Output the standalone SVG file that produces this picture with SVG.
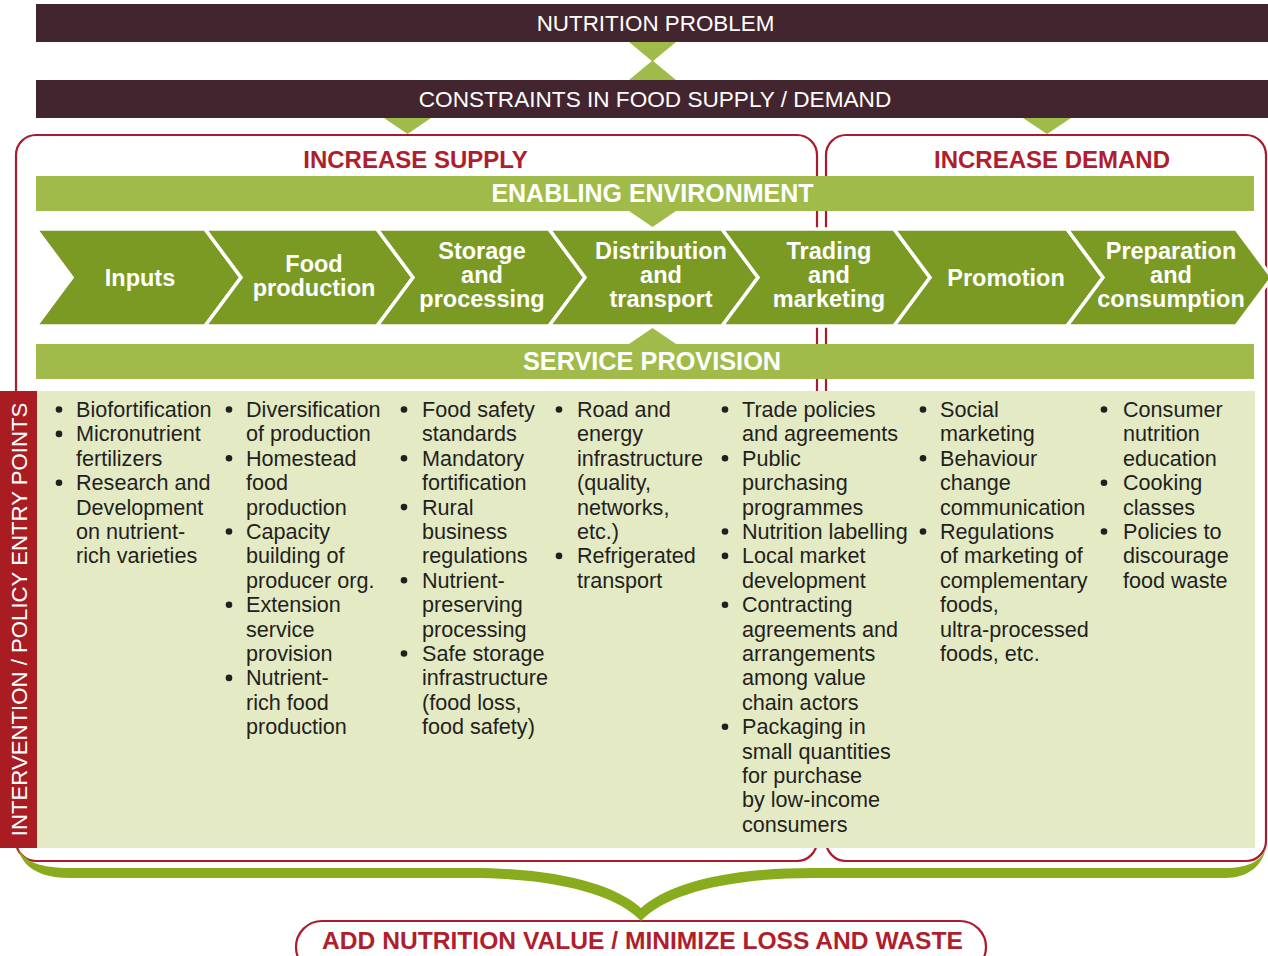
<svg xmlns="http://www.w3.org/2000/svg" width="1268" height="956" viewBox="0 0 1268 956">
<style>
.dark{fill:#43252f}
.lg{fill:#a1bb4a}
.chev{fill:#7b9a24;stroke:#fff;stroke-width:3.5;stroke-linejoin:miter}
.box{fill:none;stroke:#ab1a2d;stroke-width:2.2}
.wt{font-family:"Liberation Sans",Arial,sans-serif;fill:#fff;text-anchor:middle}
.b{font-weight:bold}
.red{font-family:"Liberation Sans",Arial,sans-serif;font-weight:bold;fill:#b01e2d;text-anchor:middle;font-size:24px}
.ct{font-family:"Liberation Sans",Arial,sans-serif;font-weight:bold;fill:#fff;text-anchor:middle;font-size:23.5px}
.lt{font-family:"Liberation Sans",Arial,sans-serif;fill:#231f20;font-size:21.6px}
.bul{fill:#231f20}
</style>

<g id="frames">
  <rect class="box" x="16" y="135" width="801" height="726" rx="20"/>
  <rect class="box" x="826" y="135" width="440" height="726" rx="20"/>
</g>

<g id="nutrition-problem">
  <rect class="dark" x="36" y="4" width="1232" height="38"/>
  <text class="wt" x="655.5" y="31" font-size="22.4">NUTRITION PROBLEM</text>
</g>
<g id="constraints">
  <rect class="dark" x="36" y="80" width="1232" height="38"/>
  <text class="wt" x="655" y="107" font-size="22.6">CONSTRAINTS IN FOOD SUPPLY / DEMAND</text>
</g>

<g id="increase-supply">
  <text class="red" x="415.5" y="168">INCREASE SUPPLY</text>
</g>
<g id="increase-demand">
  <text class="red" x="1052" y="168">INCREASE DEMAND</text>
</g>

<g id="enabling-environment">
  <rect class="lg" x="36" y="176" width="1218" height="35"/>
  <text class="wt b" x="652.5" y="202" font-size="25">ENABLING ENVIRONMENT</text>
</g>

<g id="service-provision">
  <rect class="lg" x="36" y="344" width="1218" height="35"/>
  <text class="wt b" x="652" y="370" font-size="25.3">SERVICE PROVISION</text>
</g>

<g id="chain">
  <g id="inputs">
    <polygon class="chev" points="36,229 205,229 241,277.5 205,326 36,326 72,277.5"/>
    <text class="ct" x="140" y="286">Inputs</text>
  </g>
  <g id="food-production">
    <polygon class="chev" points="205,229 377,229 413,277.5 377,326 205,326 241,277.5"/>
    <text class="ct" x="314" y="272">Food</text>
    <text class="ct" x="314" y="296">production</text>
  </g>
  <g id="storage">
    <polygon class="chev" points="377,229 549,229 585,277.5 549,326 377,326 413,277.5"/>
    <text class="ct" x="482" y="259">Storage</text>
    <text class="ct" x="482" y="283">and</text>
    <text class="ct" x="482" y="307">processing</text>
  </g>
  <g id="distribution">
    <polygon class="chev" points="549,229 722,229 758,277.5 722,326 549,326 585,277.5"/>
    <text class="ct" x="661" y="259">Distribution</text>
    <text class="ct" x="661" y="283">and</text>
    <text class="ct" x="661" y="307">transport</text>
  </g>
  <g id="trading">
    <polygon class="chev" points="722,229 894,229 930,277.5 894,326 722,326 758,277.5"/>
    <text class="ct" x="829" y="259">Trading</text>
    <text class="ct" x="829" y="283">and</text>
    <text class="ct" x="829" y="307">marketing</text>
  </g>
  <g id="promotion">
    <polygon class="chev" points="894,229 1067,229 1103,277.5 1067,326 894,326 930,277.5"/>
    <text class="ct" x="1006" y="286">Promotion</text>
  </g>
  <g id="preparation">
    <polygon class="chev" points="1067,229 1236,229 1272,277.5 1236,326 1067,326 1103,277.5"/>
    <text class="ct" x="1171" y="259">Preparation</text>
    <text class="ct" x="1171" y="283">and</text>
    <text class="ct" x="1171" y="307">consumption</text>
  </g>
</g>

<g id="entry-points">
  <rect fill="#e3eac4" x="37" y="391" width="1218" height="457"/>
  <g id="col1">
    <circle class="bul" cx="59" cy="409.5" r="3.3"/>
    <circle class="bul" cx="59" cy="433.9" r="3.3"/>
    <circle class="bul" cx="59" cy="482.7" r="3.3"/>
    <text class="lt">
      <tspan x="76" y="417">Biofortification</tspan>
      <tspan x="76" y="441.4">Micronutrient</tspan>
      <tspan x="76" y="465.8">fertilizers</tspan>
      <tspan x="76" y="490.2">Research and</tspan>
      <tspan x="76" y="514.6">Development</tspan>
      <tspan x="76" y="539">on nutrient-</tspan>
      <tspan x="76" y="563.4">rich varieties</tspan>
    </text>
  </g>
  <g id="col2">
    <circle class="bul" cx="229" cy="409.5" r="3.3"/>
    <circle class="bul" cx="229" cy="458.3" r="3.3"/>
    <circle class="bul" cx="229" cy="531.5" r="3.3"/>
    <circle class="bul" cx="229" cy="604.7" r="3.3"/>
    <circle class="bul" cx="229" cy="677.9" r="3.3"/>
    <text class="lt">
      <tspan x="246" y="417">Diversification</tspan>
      <tspan x="246" y="441.4">of production</tspan>
      <tspan x="246" y="465.8">Homestead</tspan>
      <tspan x="246" y="490.2">food</tspan>
      <tspan x="246" y="514.6">production</tspan>
      <tspan x="246" y="539">Capacity</tspan>
      <tspan x="246" y="563.4">building of</tspan>
      <tspan x="246" y="587.8">producer org.</tspan>
      <tspan x="246" y="612.2">Extension</tspan>
      <tspan x="246" y="636.6">service</tspan>
      <tspan x="246" y="661">provision</tspan>
      <tspan x="246" y="685.4">Nutrient-</tspan>
      <tspan x="246" y="709.8">rich food</tspan>
      <tspan x="246" y="734.2">production</tspan>
    </text>
  </g>
  <g id="col3">
    <circle class="bul" cx="404" cy="409.5" r="3.3"/>
    <circle class="bul" cx="404" cy="458.3" r="3.3"/>
    <circle class="bul" cx="404" cy="507.1" r="3.3"/>
    <circle class="bul" cx="404" cy="580.3" r="3.3"/>
    <circle class="bul" cx="404" cy="653.5" r="3.3"/>
    <text class="lt">
      <tspan x="422" y="417">Food safety</tspan>
      <tspan x="422" y="441.4">standards</tspan>
      <tspan x="422" y="465.8">Mandatory</tspan>
      <tspan x="422" y="490.2">fortification</tspan>
      <tspan x="422" y="514.6">Rural</tspan>
      <tspan x="422" y="539">business</tspan>
      <tspan x="422" y="563.4">regulations</tspan>
      <tspan x="422" y="587.8">Nutrient-</tspan>
      <tspan x="422" y="612.2">preserving</tspan>
      <tspan x="422" y="636.6">processing</tspan>
      <tspan x="422" y="661">Safe storage</tspan>
      <tspan x="422" y="685.4">infrastructure</tspan>
      <tspan x="422" y="709.8">(food loss,</tspan>
      <tspan x="422" y="734.2">food safety)</tspan>
    </text>
  </g>
  <g id="col4">
    <circle class="bul" cx="559" cy="409.5" r="3.3"/>
    <circle class="bul" cx="559" cy="555.9" r="3.3"/>
    <text class="lt">
      <tspan x="577" y="417">Road and</tspan>
      <tspan x="577" y="441.4">energy</tspan>
      <tspan x="577" y="465.8">infrastructure</tspan>
      <tspan x="577" y="490.2">(quality,</tspan>
      <tspan x="577" y="514.6">networks,</tspan>
      <tspan x="577" y="539">etc.)</tspan>
      <tspan x="577" y="563.4">Refrigerated</tspan>
      <tspan x="577" y="587.8">transport</tspan>
    </text>
  </g>
  <g id="col5">
    <circle class="bul" cx="725" cy="409.5" r="3.3"/>
    <circle class="bul" cx="725" cy="458.3" r="3.3"/>
    <circle class="bul" cx="725" cy="531.5" r="3.3"/>
    <circle class="bul" cx="725" cy="555.9" r="3.3"/>
    <circle class="bul" cx="725" cy="604.7" r="3.3"/>
    <circle class="bul" cx="725" cy="726.7" r="3.3"/>
    <text class="lt">
      <tspan x="742" y="417">Trade policies</tspan>
      <tspan x="742" y="441.4">and agreements</tspan>
      <tspan x="742" y="465.8">Public</tspan>
      <tspan x="742" y="490.2">purchasing</tspan>
      <tspan x="742" y="514.6">programmes</tspan>
      <tspan x="742" y="539">Nutrition labelling</tspan>
      <tspan x="742" y="563.4">Local market</tspan>
      <tspan x="742" y="587.8">development</tspan>
      <tspan x="742" y="612.2">Contracting</tspan>
      <tspan x="742" y="636.6">agreements and</tspan>
      <tspan x="742" y="661">arrangements</tspan>
      <tspan x="742" y="685.4">among value</tspan>
      <tspan x="742" y="709.8">chain actors</tspan>
      <tspan x="742" y="734.2">Packaging in</tspan>
      <tspan x="742" y="758.6">small quantities</tspan>
      <tspan x="742" y="783">for purchase</tspan>
      <tspan x="742" y="807.4">by low-income</tspan>
      <tspan x="742" y="831.8">consumers</tspan>
    </text>
  </g>
  <g id="col6">
    <circle class="bul" cx="923" cy="409.5" r="3.3"/>
    <circle class="bul" cx="923" cy="458.3" r="3.3"/>
    <circle class="bul" cx="923" cy="531.5" r="3.3"/>
    <text class="lt">
      <tspan x="940" y="417">Social</tspan>
      <tspan x="940" y="441.4">marketing</tspan>
      <tspan x="940" y="465.8">Behaviour</tspan>
      <tspan x="940" y="490.2">change</tspan>
      <tspan x="940" y="514.6">communication</tspan>
      <tspan x="940" y="539">Regulations</tspan>
      <tspan x="940" y="563.4">of marketing of</tspan>
      <tspan x="940" y="587.8">complementary</tspan>
      <tspan x="940" y="612.2">foods,</tspan>
      <tspan x="940" y="636.6">ultra-processed</tspan>
      <tspan x="940" y="661">foods, etc.</tspan>
    </text>
  </g>
  <g id="col7">
    <circle class="bul" cx="1104" cy="409.5" r="3.3"/>
    <circle class="bul" cx="1104" cy="482.7" r="3.3"/>
    <circle class="bul" cx="1104" cy="531.5" r="3.3"/>
    <text class="lt">
      <tspan x="1123" y="417">Consumer</tspan>
      <tspan x="1123" y="441.4">nutrition</tspan>
      <tspan x="1123" y="465.8">education</tspan>
      <tspan x="1123" y="490.2">Cooking</tspan>
      <tspan x="1123" y="514.6">classes</tspan>
      <tspan x="1123" y="539">Policies to</tspan>
      <tspan x="1123" y="563.4">discourage</tspan>
      <tspan x="1123" y="587.8">food waste</tspan>
    </text>
  </g>
</g>

<g id="side-label">
  <rect fill="#a81c22" x="0" y="391" width="37" height="457"/>
  <text class="wt" font-size="22.2" transform="translate(26.5,619.5) rotate(-90)" x="0" y="0">INTERVENTION / POLICY ENTRY POINTS</text>
</g>

<g id="outcome">
  <rect x="296" y="921" width="690" height="52" rx="26" fill="#fff" stroke="#ab1a2d" stroke-width="2.2"/>
  <text class="red" x="642.5" y="949" style="font-size:24.6px">ADD NUTRITION VALUE / MINIMIZE LOSS AND WASTE</text>
</g>

<g id="connectors">
  <polygon class="lg" points="629,42 676,42 652.5,61.5"/>
  <polygon class="lg" points="629,80 676,80 652.5,60.5"/>
  <polygon class="lg" points="384,118 431,118 407.5,134"/>
  <polygon class="lg" points="1023,118 1071,118 1047,134"/>
  <polygon class="lg" points="629,211 676,211 652.5,227"/>
  <polygon class="lg" points="629,344 676,344 652.5,328"/>
  <path fill="#89ab1e" d="M18,848 C25,862 40,868 70,868 L470,868 C560,868 615,885 641,908 C667,885 722,868 812,868 L1225,868 C1250,868 1262,860 1266,848 C1262,866 1248,878 1225,878 L812,878 C725,878 665,895 641,921 C617,895 557,878 470,878 L70,878 C38,878 22,866 18,848 Z"/>
</g>
</svg>
